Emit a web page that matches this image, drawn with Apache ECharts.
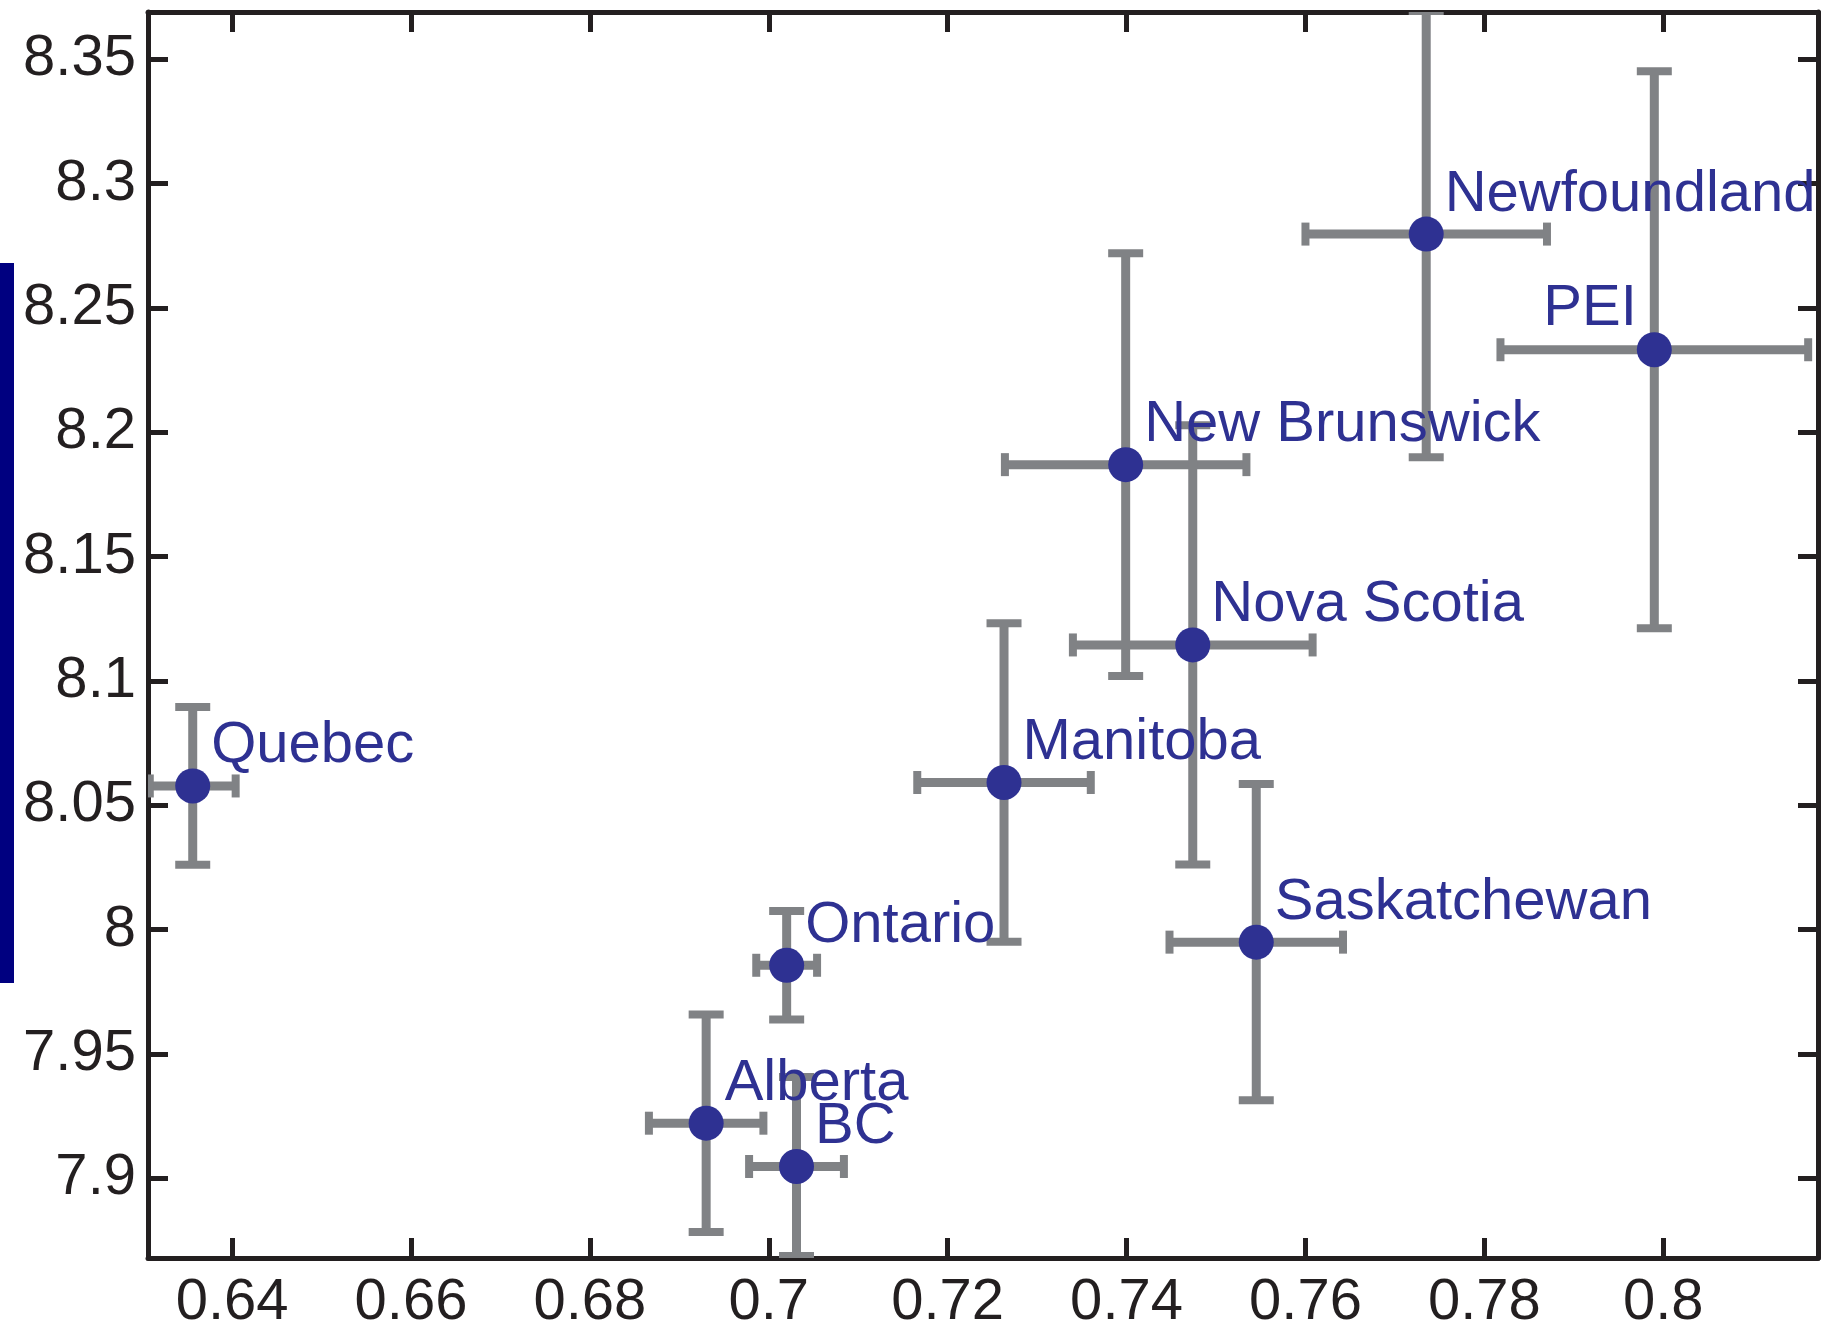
<!DOCTYPE html>
<html>
<head>
<meta charset="utf-8">
<title>Provinces</title>
<script src="https://cdn.jsdelivr.net/npm/echarts@6/dist/echarts.min.js"></script>
<style>
  html, body { margin: 0; padding: 0; background: #fff; }
  #chart { width: 1831px; height: 1332px; }
</style>
</head>
<body>
<div id="chart"></div>
<script>
// values
const provinces = ['Quebec', 'Ontario', 'Alberta', 'BC', 'Manitoba', 'New Brunswick',
  'Nova Scotia', 'Saskatchewan', 'Newfoundland', 'PEI'];
const xValues = [0.6356, 0.7020, 0.6930, 0.7031, 0.7263, 0.7399, 0.7474, 0.7545, 0.7735, 0.7990];
const yValues = [8.0578, 7.9857, 7.9222, 7.9048, 8.0592, 8.1870, 8.1145, 7.9950, 8.2797, 8.2332];
const xErrors = [0.0048, 0.0034, 0.0064, 0.0053, 0.0097, 0.0135, 0.0134, 0.0097, 0.0135, 0.0172];
const yErrors = [0.0317, 0.0218, 0.0437, 0.0360, 0.0640, 0.0850, 0.0883, 0.0636, 0.0897, 0.1120];

const xTicks = [0.64, 0.66, 0.68, 0.7, 0.72, 0.74, 0.76, 0.78, 0.8];
const yTicks = [7.9, 7.95, 8, 8.05, 8.1, 8.15, 8.2, 8.25, 8.3, 8.35];

const AXIS = '#231f20';
const BAR = '#808285';
const DOT = '#2e3192';
const FONT = '"Liberation Sans", Arial, Helvetica, sans-serif';

const chart = echarts.init(document.getElementById('chart'));

const makeAxis = (min, max, ticks, extra) => Object.assign({
  type: 'value',
  min: min,
  max: max,
  axisLine: { show: true, onZero: false, lineStyle: { color: AXIS, width: 5 } },
  axisTick: { show: true, inside: true, length: 20, customValues: ticks,
    lineStyle: { color: AXIS, width: 5 } },
  splitLine: { show: false },
  axisLabel: { show: false }
}, extra);

const labelStyle = (ticks, margin) => ({
  show: true,
  customValues: ticks,
  margin: margin,
  color: AXIS,
  fontSize: 58,
  fontFamily: FONT,
  formatter: v => String(v)
});

const renderErrorBars = (params, api) => {
  const x = api.value(0), y = api.value(1), ex = api.value(2), ey = api.value(3);
  const top = api.coord([x, y + ey]);
  const bot = api.coord([x, y - ey]);
  const left = api.coord([x - ex, y]);
  const right = api.coord([x + ex, y]);
  const bar = { stroke: BAR, lineWidth: 9 };
  const cap = { stroke: BAR, lineWidth: 8 };
  const line = (x1, y1, x2, y2, style) => ({ type: 'line', shape: { x1, y1, x2, y2 }, style });
  return {
    type: 'group',
    children: [
      line(top[0], top[1], bot[0], bot[1], bar),
      line(top[0] - 17.5, top[1], top[0] + 17.5, top[1], cap),
      line(bot[0] - 17.5, bot[1], bot[0] + 17.5, bot[1], cap),
      line(left[0], left[1], right[0], right[1], bar),
      line(left[0], left[1] - 11.5, left[0], left[1] + 11.5, cap),
      line(right[0], right[1] - 11.5, right[0], right[1] + 11.5, cap)
    ]
  };
};

const points = provinces.map((name, i) => ({
  name: name,
  value: [xValues[i], yValues[i]],
  label: name === 'PEI' ? { position: [0, -23], align: 'right' } : undefined
}));

const options = {
  animation: false,
  backgroundColor: '#fff',
  grid: { left: 148, right: 13, top: 12, bottom: 74, outerBoundsMode: 'none' },
  xAxis: [
    makeAxis(0.6306, 0.8173, xTicks, { position: 'bottom', axisLabel: labelStyle(xTicks, 16) }),
    makeAxis(0.6306, 0.8173, xTicks, { position: 'top' })
  ],
  yAxis: [
    makeAxis(7.868, 8.369, yTicks, { position: 'left', axisLabel: labelStyle(yTicks, 12) }),
    makeAxis(7.868, 8.369, yTicks, { position: 'right' })
  ],
  graphic: [{
    type: 'rect',
    left: 0,
    top: 263,
    shape: { width: 14, height: 720 },
    style: { fill: '#000080' }
  }],
  series: [
    {
      type: 'custom',
      name: 'error',
      clip: true,
      z: 1,
      renderItem: renderErrorBars,
      data: provinces.map((_, i) => [xValues[i], yValues[i], xErrors[i], yErrors[i]])
    },
    {
      type: 'scatter',
      name: 'provinces',
      z: 2,
      symbol: 'circle',
      symbolSize: 35,
      itemStyle: { color: DOT, opacity: 1 },
      label: {
        show: true,
        formatter: p => p.name,
        position: [36, -22],
        align: 'left',
        verticalAlign: 'middle',
        color: DOT,
        fontSize: 58,
        fontFamily: FONT
      },
      data: points
    }
  ]
};

chart.setOption(options);
</script>
</body>
</html>
